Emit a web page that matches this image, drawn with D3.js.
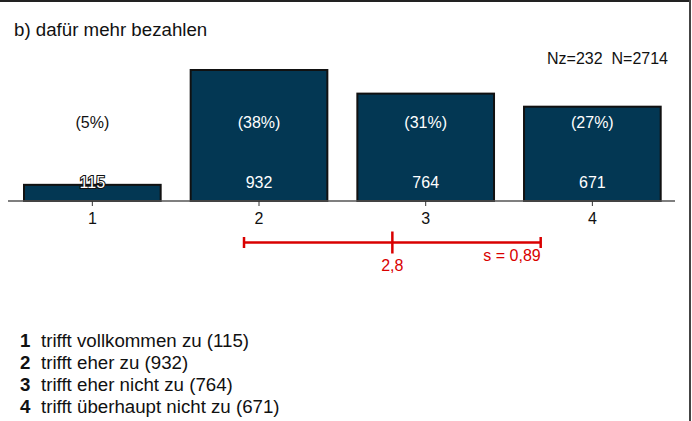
<!DOCTYPE html>
<html>
<head>
<meta charset="utf-8">
<script src="https://cdn.jsdelivr.net/npm/d3@7"></script>
<style>
  body { margin: 0; background: #fff; }
  svg { display: block; font-family: Arial, "Liberation Sans", sans-serif; }
</style>
</head>
<body>
<div id="chart"></div>
<script>
// data
const categories = [1, 2, 3, 4];
const counts = [115, 932, 764, 671];
const percents = ["(5%)", "(38%)", "(31%)", "(27%)"];
const legendLabels = [
  "trifft vollkommen zu (115)",
  "trifft eher zu (932)",
  "trifft eher nicht zu (764)",
  "trifft überhaupt nicht zu (671)"
];
const title = "b) dafür mehr bezahlen";
const sampleText = "Nz=232\u00a0\u00a0N=2714";
const meanValue = 2.8;
const sdValue = 0.89;

const width = 692, height = 421;
const fmt = v => String(v).replace(".", ",");

const svg = d3.select("#chart").append("svg")
  .attr("width", width)
  .attr("height", height);

// frame: top and right edges only
svg.append("line").attr("x1", 0).attr("x2", 690).attr("y1", 1).attr("y2", 1)
  .attr("stroke", "#222").attr("stroke-width", 2);
svg.append("line").attr("x1", 690).attr("x2", 690).attr("y1", 0).attr("y2", height)
  .attr("stroke", "#444").attr("stroke-width", 2);

// scales
const x = d3.scaleBand()
  .domain(categories)
  .range([9, 675.7])
  .paddingInner(0.18)
  .paddingOuter(0.09);

// continuous x for mean / sd marker
const xLin = d3.scaleLinear()
  .domain([1, 4])
  .range([x(1) + x.bandwidth() / 2, x(4) + x.bandwidth() / 2]);

const y = d3.scaleLinear()
  .domain([0, d3.max(counts)])
  .range([201, 70]);

svg.append("text")
  .attr("x", 14).attr("y", 36)
  .attr("font-size", 18.7)
  .attr("fill", "#111")
  .text(title);

svg.append("text")
  .attr("x", 668).attr("y", 64)
  .attr("text-anchor", "end")
  .attr("font-size", 16)
  .attr("fill", "#111")
  .text(sampleText);

// bars
const bars = svg.append("g").selectAll("g")
  .data(categories.map((c, i) => ({c, n: counts[i], p: percents[i]})))
  .join("g");

bars.append("rect")
  .attr("x", d => x(d.c))
  .attr("width", x.bandwidth())
  .attr("y", d => y(d.n))
  .attr("height", d => y(0) - y(d.n))
  .attr("fill", "#033753")
  .attr("stroke", "#111")
  .attr("stroke-width", 2);

// axis
const axis = svg.append("g").attr("transform", `translate(0,${y(0)})`);
axis.append("line")
  .attr("x1", 8).attr("x2", 675)
  .attr("stroke", "#555").attr("stroke-width", 1.5);
axis.selectAll("line.tick")
  .data(categories)
  .join("line")
  .attr("class", "tick")
  .attr("x1", d => xLin(d)).attr("x2", d => xLin(d))
  .attr("y1", 0).attr("y2", 5)
  .attr("stroke", "#333").attr("stroke-width", 1);
axis.selectAll("text")
  .data(categories)
  .join("text")
  .attr("x", d => xLin(d))
  .attr("y", 23)
  .attr("text-anchor", "middle")
  .attr("font-size", 16)
  .attr("fill", "#111")
  .text(d => d);

// percent labels: white inside bar, black when the bar is too short
bars.append("text")
  .attr("x", d => x(d.c) + x.bandwidth() / 2)
  .attr("y", 128)
  .attr("text-anchor", "middle")
  .attr("font-size", 16)
  .attr("fill", d => y(d.n) < 115 ? "#fff" : "#111")
  .text(d => d.p);

// count labels
bars.append("text")
  .attr("x", d => x(d.c) + x.bandwidth() / 2)
  .attr("y", 187.5)
  .attr("text-anchor", "middle")
  .attr("font-size", 16)
  .attr("fill", "#fff")
  .attr("stroke", d => y(d.n) > 175 ? "#111" : "none")
  .attr("stroke-width", 2.2)
  .attr("paint-order", "stroke")
  .text(d => d.n);

// mean and standard deviation
const red = "#d90000";
const ey = 242.5;
const sd = svg.append("g").attr("stroke", red).attr("stroke-width", 2.5);
sd.append("line")
  .attr("x1", xLin(meanValue - sdValue)).attr("x2", xLin(meanValue + sdValue))
  .attr("y1", ey).attr("y2", ey);
[meanValue - sdValue, meanValue + sdValue].forEach(v => {
  sd.append("line")
    .attr("x1", xLin(v)).attr("x2", xLin(v))
    .attr("y1", ey - 5.5).attr("y2", ey + 5.5);
});
sd.append("line")
  .attr("x1", xLin(meanValue)).attr("x2", xLin(meanValue))
  .attr("y1", ey - 11).attr("y2", ey + 11);

svg.append("text")
  .attr("x", xLin(meanValue)).attr("y", 271)
  .attr("text-anchor", "middle")
  .attr("font-size", 16)
  .attr("fill", red)
  .text(fmt(meanValue));
svg.append("text")
  .attr("x", xLin(meanValue + sdValue)).attr("y", 261)
  .attr("text-anchor", "end")
  .attr("font-size", 16)
  .attr("fill", red)
  .text("s = " + fmt(sdValue));

// legend
const legend = svg.append("g").selectAll("g")
  .data(legendLabels)
  .join("g")
  .attr("transform", (d, i) => `translate(0,${346.5 + i * 22})`);
legend.append("text")
  .attr("x", 20)
  .attr("font-size", 18.7)
  .attr("font-weight", "bold")
  .attr("fill", "#111")
  .text((d, i) => categories[i]);
legend.append("text")
  .attr("x", 41)
  .attr("font-size", 18.7)
  .attr("fill", "#111")
  .text(d => d);
</script>
</body>
</html>
